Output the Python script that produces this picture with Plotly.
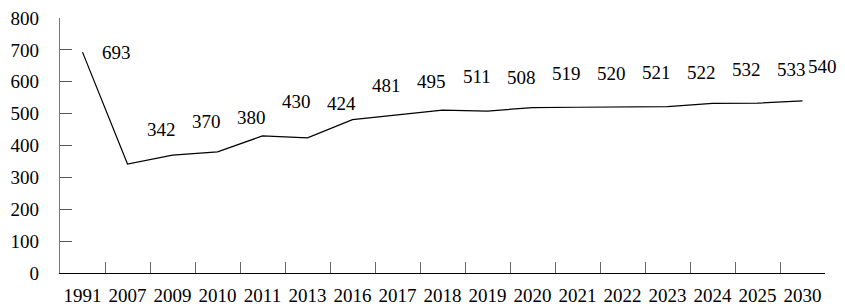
import plotly.graph_objects as go

years = ["1991", "2007", "2009", "2010", "2011", "2013", "2016", "2017", "2018",
         "2019", "2020", "2021", "2022", "2023", "2024", "2025", "2030"]
values = [693, 342, 370, 380, 430, 424, 481, 495, 511, 508, 519, 520, 521, 522,
          532, 533, 540]
y_ticks = [0, 100, 200, 300, 400, 500, 600, 700, 800]

FONT = "Liberation Serif, Times New Roman, serif"
FS = 19

fig = go.Figure()
fig.add_trace(go.Scatter(
    x=years, y=values, mode="lines",
    line=dict(color="black", width=1.2),
    hoverinfo="skip", showlegend=False,
))

n = len(years)
for i, v in enumerate(values):
    xs = 34
    ys = 34
    if i == 0:
        ys = 0
    if i == n - 1:
        xs = 20
    fig.add_annotation(
        x=i, y=v, xref="x", yref="y", text=str(v), showarrow=False,
        xshift=xs, yshift=ys,
        font=dict(family=FONT, size=FS, color="black"),
    )

# page has an 8px body margin, so the figure is 8px smaller and shifted
fig.update_layout(
    width=837, height=298,
    margin=dict(l=52, r=20, t=10, b=33, autoexpand=False),
    paper_bgcolor="white", plot_bgcolor="white",
    font=dict(family=FONT, size=FS, color="black"),
)
fig.update_xaxes(
    type="category", range=[-0.5, n - 0.5], automargin=False,
    showline=True, linecolor="black", linewidth=1.2,
    ticks="inside", tickson="boundaries", ticklen=11, tickcolor="#666666",
    tickwidth=1, showgrid=False, zeroline=False,
    tickangle=0, ticklabeloverflow="allow",
    ticklabelstandoff=5,
    tickfont=dict(family=FONT, size=FS, color="black"),
)
fig.update_yaxes(
    range=[0, 800], tickvals=y_ticks, ticktext=[str(t) for t in y_ticks],
    automargin=False, ticklabeloverflow="allow",
    showline=True, linecolor="#777777", linewidth=1.2,
    ticks="inside", ticklen=12, tickcolor="#555555", tickwidth=1,
    showgrid=False, zeroline=False,
    ticklabelstandoff=16,
    tickfont=dict(family=FONT, size=FS, color="black"),
)

fig.write_html("out.html")
